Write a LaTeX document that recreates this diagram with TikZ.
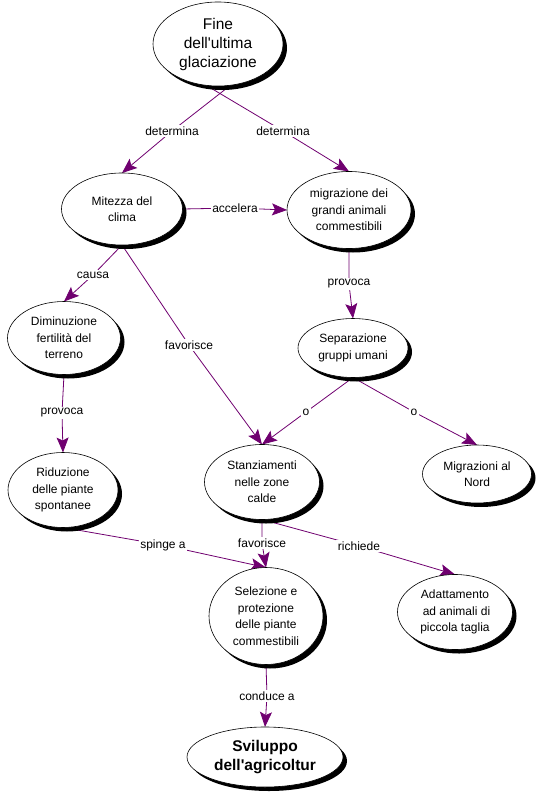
\documentclass[tikz,border=0pt]{standalone}
\usepackage{fontspec}
\setmainfont{Liberation Sans}[Ligatures=TeXOff]
\usetikzlibrary{shapes.geometric,shadows,arrows.meta,backgrounds}
\definecolor{conn}{RGB}{112,0,112}
\begin{document}
\begin{tikzpicture}[x=1pt,y=-1pt,
  concept/.style={ellipse,draw=black,line width=0.6pt,fill=white,
    drop shadow={shadow xshift=4pt,shadow yshift=-4pt,fill=black,opacity=1},
    align=center,inner sep=0pt,outer sep=0pt,font=\fontsize{12}{16.5}\selectfont},
  lbl/.style={fill=white,inner sep=1.5pt,font=\fontsize{12}{14}\selectfont},
  link/.style={draw=conn,line width=0.8pt,-{Stealth[length=15pt,width=12pt,inset=3pt]}}]
\useasboundingbox (0,0) rectangle (539,792);
% concepts
\node[concept,minimum width=130pt,minimum height=84pt,font=\fontsize{15.5}{19}\selectfont] (fine) at (218,44) {Fine\\dell'ultima\\glaciazione};
\node[concept,minimum width=121pt,minimum height=72pt] (mit) at (122,209) {Mitezza del\\clima};
\node[concept,minimum width=124pt,minimum height=77pt] (mig) at (349,210) {migrazione dei\\grandi animali\\commestibili};
\node[concept,minimum width=113pt,minimum height=73pt] (dim) at (64,338) {Diminuzione\\fertilità del\\terreno};
\node[concept,minimum width=110pt,minimum height=59pt] (sep) at (353,348) {Separazione\\gruppi umani};
\node[concept,minimum width=115pt,minimum height=75pt] (stz) at (262,482) {Stanziamenti\\nelle zone\\calde};
\node[concept,minimum width=109pt,minimum height=58pt] (nord) at (477,474) {Migrazioni al\\Nord};
\node[concept,minimum width=110pt,minimum height=75pt] (rid) at (63,490) {Riduzione\\delle piante\\spontanee};
\node[concept,minimum width=114pt,minimum height=97pt] (sel) at (266,616) {Selezione e\\protezione\\delle piante\\commestibili};
\node[concept,minimum width=115pt,minimum height=75pt] (ada) at (455,612) {Adattamento\\\hspace*{3pt}ad animali di\\piccola taglia};
\node[concept,minimum width=156pt,minimum height=60pt,font=\bfseries\fontsize{15.5}{19}\selectfont] (svi) at (265,757) {Sviluppo\\dell'agricoltur};
% link labels
\node[lbl] (l1) at (172,131) {determina};
\node[lbl] (l2) at (283,131) {determina};
\node[lbl] (l3) at (235,208) {accelera};
\node[lbl] (l4) at (93,275) {causa};
\node[lbl] (l5) at (189,345) {favorisce};
\node[lbl] (l6) at (349,284) {provoca};
\node[lbl] (l7) at (62,413) {provoca};
\node[lbl] (l8) at (306,412) {o};
\node[lbl] (l9) at (414,412) {o};
\node[lbl] (l10) at (163,545) {spinge a};
\node[lbl] (l11) at (262,543) {favorisce};
\node[lbl] (l12) at (359,546) {richiede};
\node[lbl] (l13) at (267,696) {conduce a};
% connectors
\begin{pgfonlayer}{background}
\fill[white] (0,0) rectangle (539,792);
\draw[link] (fine.287) -- (l1.center) -- (mit.north);
\draw[link] (fine.254) -- (l2.center) -- (mig.north);
\draw[link] (mit.east) -- (l3.center) -- (mig.west);
\draw[link] (mit.south) -- (l4.center) -- (dim.north);
\draw[link] (mit.south) -- (l5.center) -- (stz.north);
\draw[link] (mig.south) -- (l6.center) -- (sep.north);
\draw[link] (dim.south) -- (l7.center) -- (rid.north);
\draw[link] (sep.south) -- (l8.center) -- (stz.north);
\draw[link] (sep.south) -- (l9.center) -- (nord.north);
\draw[link] (rid.south) -- (l10.center) -- (sel.north);
\draw[link] (stz.south) -- (l11.center) -- (sel.north);
\draw[link] (stz.south) -- (l12.center) -- (ada.north);
\draw[link] (sel.south) -- (l13.center) -- (svi.north);
\end{pgfonlayer}
\end{tikzpicture}
\end{document}
